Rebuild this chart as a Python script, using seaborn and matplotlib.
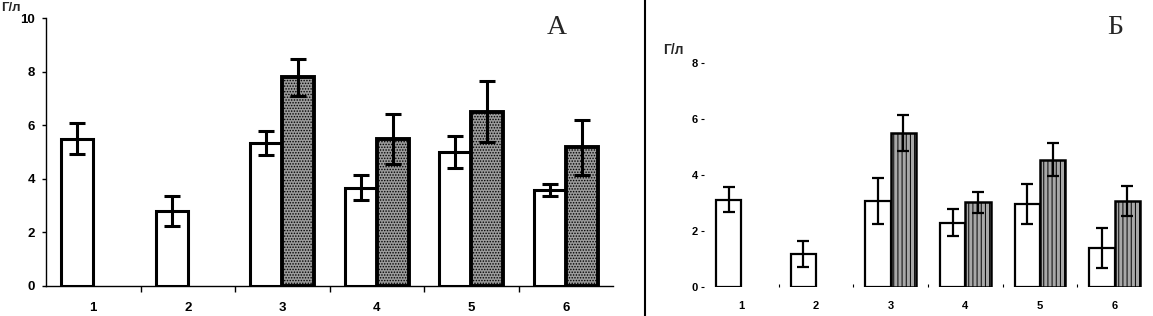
import numpy as np
import pandas as pd
import matplotlib
matplotlib.use("Agg")
import matplotlib.pyplot as plt
import seaborn as sns
from matplotlib.lines import Line2D

# ---------------- data ----------------
groups = ["1", "2", "3", "4", "5", "6"]

# Panel A
a_white = [5.5, 2.8, 5.33, 3.67, 5.01, 3.58]
a_white_err = [0.57, 0.56, 0.46, 0.46, 0.60, 0.22]
a_shaded = [np.nan, np.nan, 7.79, 5.49, 6.51, 5.17]
a_shaded_err = [np.nan, np.nan, 0.70, 0.94, 1.15, 1.02]

# Panel Б
b_white = [3.13, 1.19, 3.08, 2.30, 2.98, 1.41]
b_white_err = [0.44, 0.48, 0.82, 0.48, 0.72, 0.71]
b_shaded = [np.nan, np.nan, 5.52, 3.04, 4.56, 3.08]
b_shaded_err = [np.nan, np.nan, 0.64, 0.37, 0.60, 0.55]

a_yticks = [0, 2, 4, 6, 8, 10]
b_yticks = [0, 2, 4, 6, 8]
unit = "Г/л"

# ---------------- figure ----------------
sns.set_theme(style="white")
plt.rcParams["font.family"] = ["Liberation Sans", "DejaVu Sans"]
plt.rcParams["hatch.linewidth"] = 0.7

W, H = 1153, 316
fig = plt.figure(figsize=(W / 100, H / 100), dpi=100)

def frac_box(x0, x1, ytop, ybot):
    return [x0 / W, 1 - ybot / H, (x1 - x0) / W, (ybot - ytop) / H]

axA = fig.add_axes(frac_box(46, 613, 18.3, 285.7))
axB = fig.add_axes(frac_box(704, 1152, 63.3, 287.3))


def make_df(white, shaded):
    rows = []
    for g, v in zip(groups, white):
        rows.append({"group": g, "series": "w", "value": v})
    for g, v in zip(groups, shaded):
        if not np.isnan(v):
            rows.append({"group": g, "series": "s", "value": v})
    return pd.DataFrame(rows)


def draw(ax, white, werr, shaded, serr, lw, slw, elw, cap, shade_col, hatch):
    df = make_df(white, shaded)
    sns.barplot(data=df, x="group", y="value", hue="series", order=groups,
                hue_order=["w", "s"], palette={"w": "white", "s": shade_col},
                width=0.68, errorbar=None, legend=False, ax=ax,
                edgecolor="black", linewidth=lw, saturation=1)
    vals = {"w": (white, werr), "s": (shaded, serr)}
    for cont, key in zip(ax.containers, ["w", "s"]):
        v, e = vals[key]
        for p in cont:
            if key == "s":
                p.set_hatch(hatch)
                p.set_linewidth(slw)
            cx = p.get_x() + p.get_width() / 2
            i = int(round(cx))
            if i < 0 or i >= len(groups) or np.isnan(v[i]):
                continue
            ax.errorbar(cx, v[i], yerr=e[i], fmt="none", ecolor="black",
                        elinewidth=elw, capsize=cap, capthick=elw, zorder=5)


draw(axA, a_white, a_white_err, a_shaded, a_shaded_err,
     lw=2.2, slw=2.8, elw=2.2, cap=5.5, shade_col="#9c9c9c", hatch="......")
draw(axB, b_white, b_white_err, b_shaded, b_shaded_err,
     lw=1.6, slw=1.8, elw=1.6, cap=4.5, shade_col="#a8a8a8", hatch="||||")

# ---- Panel A axes ----
axA.set_xlim(-0.5, 5.5)
axA.set_ylim(0, 10)
axA.set_yticks(a_yticks)
axA.set_yticklabels([str(t) for t in a_yticks])
axA.set_xlabel("")
axA.set_ylabel("")
for s in ["top", "right"]:
    axA.spines[s].set_visible(False)
for s in ["left", "bottom"]:
    axA.spines[s].set_color("black")
    axA.spines[s].set_linewidth(1.0)
axA.tick_params(axis="y", which="major", left=True, length=3, width=1,
                direction="out", pad=5, labelsize=9.5, colors="black")
axA.tick_params(axis="x", which="major", bottom=True, length=0, pad=12,
                labelsize=9.5, colors="black")
axA.set_xticks(np.arange(0.5, 5.5, 1), minor=True)
axA.tick_params(axis="x", which="minor", bottom=True, length=4, width=1,
                direction="out", color="black")
for lab in axA.get_xticklabels() + axA.get_yticklabels():
    lab.set_fontweight("bold")

# ---- Panel Б axes ----
axB.set_xlim(-0.5, 5.5)
axB.set_ylim(0, 8)
axB.set_yticks(b_yticks)
axB.set_yticklabels([str(t) for t in b_yticks])
axB.set_xlabel("")
axB.set_ylabel("")
for s in ["top", "right", "left", "bottom"]:
    axB.spines[s].set_visible(False)
axB.tick_params(axis="y", which="major", left=True, length=2.5, width=0.8,
                direction="out", pad=2, labelsize=8, colors="black")
axB.tick_params(axis="x", which="major", bottom=True, length=0, pad=10,
                labelsize=8, colors="black")
axB.set_xticks(np.arange(0.5, 5.5, 1), minor=True)
axB.tick_params(axis="x", which="minor", bottom=True, length=2.5, width=0.8,
                direction="in", color="black")
for lab in axB.get_xticklabels() + axB.get_yticklabels():
    lab.set_fontweight("bold")
for ax in (axA, axB):
    ax.set_facecolor("white")
    ax.patch.set_alpha(0)

# ---- annotations ----
fig.text(1 / W, 1 - 8 / H, unit, fontsize=9.5, fontweight="bold",
         ha="left", va="center")
fig.text(673 / W, 1 - 50 / H, unit, fontsize=10, fontweight="bold",
         ha="center", va="center")
fig.text(557 / W, 1 - 28 / H, "А", fontsize=20, family="Liberation Serif",
         ha="center", va="center")
fig.text(1115 / W, 1 - 28 / H, "Б", fontsize=20, family="Liberation Serif",
         ha="center", va="center")
fig.add_artist(Line2D([644.5 / W, 644.5 / W], [0, 1], color="black",
                      linewidth=1.5, transform=fig.transFigure))

fig.savefig("out.png", dpi=100, facecolor="white")
